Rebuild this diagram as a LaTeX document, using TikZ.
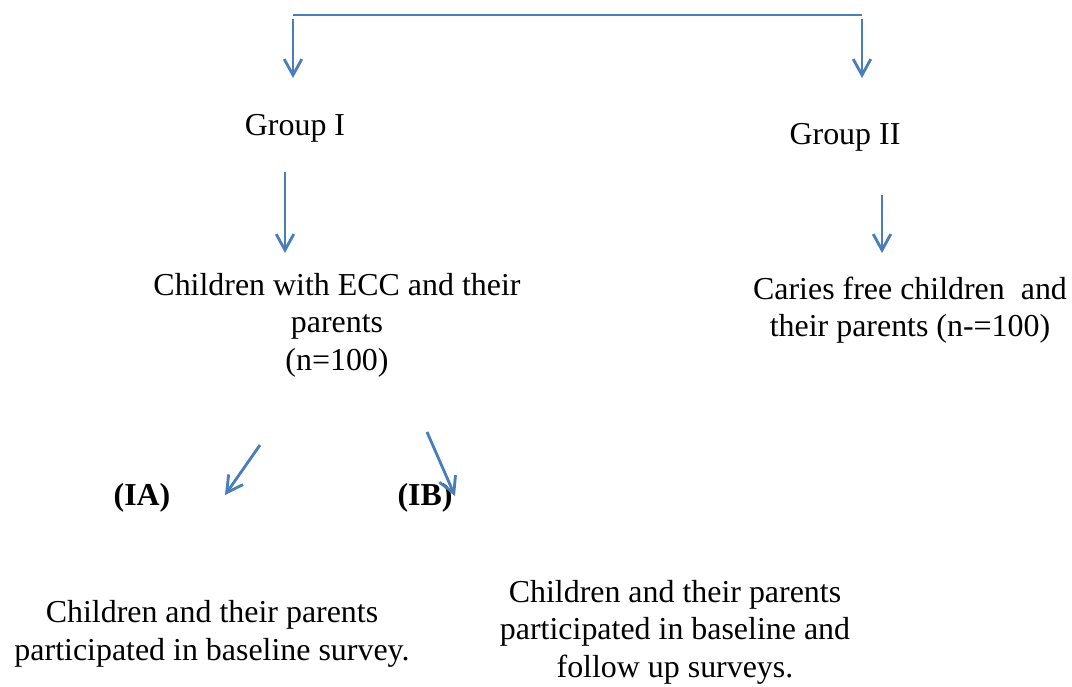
\documentclass[tikz,border=0pt]{standalone}
\usepackage{fontspec}
\setmainfont{Liberation Serif}
\usetikzlibrary{arrows.meta}

\definecolor{arrowblue}{HTML}{4A7EBB}

\begin{document}
\begin{tikzpicture}[x=0.025cm,y=-0.025cm,
        txt/.style={align=center,inner sep=0pt,font=\fontsize{22.7}{26.6}\selectfont},
        lbl/.style={inner sep=0pt,font=\fontsize{22.7}{26.6}\selectfont\bfseries},
        arr/.style={draw=arrowblue,line width=2pt,-{Straight Barb[length=0.4cm,width=0.44cm,line width=2pt]}}]
                \useasboundingbox (0,0) rectangle (1072,686);
                % labels
                \node[txt] (g1) at (295,128) {Group I};
                \node[txt] (g2) at (845,137) {Group II};
                \node[txt] (ecc) at (337,325) {Children with ECC and their\\parents\\(n=100)};
                \node[txt] (cf) at (910,310) {Caries free children~ and\\their parents (n-=100)};
                \node[lbl] (ia) at (142,498) {(IA)};
                \node[lbl] (ib) at (425,498) {(IB)};
                \node[txt] (sa) at (212,634) {Children and their parents\\participated in baseline survey.};
                \node[txt] (sb) at (675,632) {Children and their parents\\participated in baseline and\\follow up surveys.};
                % arrow ends
                \coordinate (tl) at (293,15);
                \coordinate (tr) at (862,15);
                \coordinate (a1s) at (293,19);
                \coordinate (a1e) at (293,78);
                \coordinate (a2s) at (862,19);
                \coordinate (a2e) at (862,78);
                \coordinate (b1s) at (285,172);
                \coordinate (b1e) at (285,253);
                \coordinate (b2s) at (882,195);
                \coordinate (b2e) at (882,253);
                \coordinate (c1s) at (260,445);
                \coordinate (c1e) at (225,495);
                \coordinate (c2s) at (427,432);
                \coordinate (c2e) at (455,496);
                \draw[draw=arrowblue,line width=1.6pt] (tl) -- (tr);
                \draw[arr] (a1s) -- (a1e);
                \draw[arr] (a2s) -- (a2e);
                \draw[arr] (b1s) -- (b1e);
                \draw[arr] (b2s) -- (b2e);
                \draw[arr] (c1s) -- (c1e);
                \draw[arr] (c2s) -- (c2e);
            \end{tikzpicture}
\end{document}
